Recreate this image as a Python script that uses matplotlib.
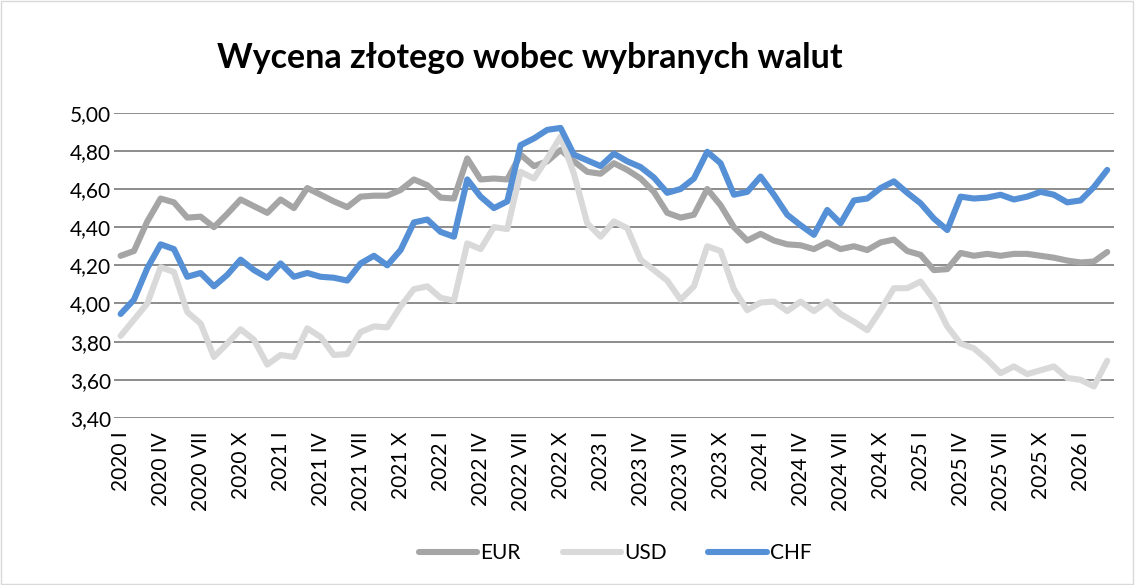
import numpy as np
import matplotlib
matplotlib.use('Agg')
from matplotlib import pyplot as plt
from matplotlib.patches import Rectangle

# monthly rates, 2020 I .. 2026 III
eur = [4.25, 4.275, 4.43, 4.55, 4.53, 4.45, 4.455, 4.40, 4.47, 4.545,
       4.51, 4.475, 4.545, 4.50, 4.605, 4.57, 4.535, 4.505, 4.56, 4.565,
       4.565, 4.595, 4.65, 4.62, 4.555, 4.55, 4.76, 4.65, 4.655, 4.65,
       4.78, 4.72, 4.745, 4.805, 4.745, 4.69, 4.68, 4.735, 4.70, 4.655,
       4.585, 4.475, 4.45, 4.465, 4.60, 4.515, 4.40, 4.33, 4.365, 4.33,
       4.31, 4.305, 4.285, 4.32, 4.285, 4.30, 4.28, 4.32, 4.335, 4.275,
       4.255, 4.175, 4.18, 4.265, 4.25, 4.26, 4.25, 4.26, 4.26, 4.25,
       4.24, 4.225, 4.215, 4.22, 4.27]
usd = [3.83, 3.915, 4.00, 4.19, 4.165, 3.955, 3.895, 3.72, 3.79, 3.865,
       3.81, 3.68, 3.73, 3.72, 3.87, 3.825, 3.73, 3.735, 3.85, 3.88,
       3.875, 3.985, 4.075, 4.09, 4.03, 4.015, 4.315, 4.285, 4.40, 4.39,
       4.69, 4.655, 4.76, 4.875, 4.68, 4.42, 4.35, 4.43, 4.395, 4.23,
       4.175, 4.12, 4.02, 4.09, 4.30, 4.275, 4.075, 3.965, 4.005, 4.01,
       3.96, 4.01, 3.96, 4.01, 3.945, 3.905, 3.86, 3.965, 4.08, 4.08,
       4.115, 4.02, 3.88, 3.79, 3.765, 3.705, 3.635, 3.67, 3.63, 3.65,
       3.67, 3.61, 3.60, 3.565, 3.70]
chf = [3.945, 4.02, 4.185, 4.31, 4.285, 4.14, 4.16, 4.09, 4.15, 4.23,
       4.175, 4.135, 4.21, 4.14, 4.16, 4.14, 4.135, 4.12, 4.21, 4.25,
       4.20, 4.28, 4.425, 4.44, 4.375, 4.35, 4.65, 4.56, 4.50, 4.535,
       4.83, 4.865, 4.91, 4.92, 4.78, 4.75, 4.72, 4.785, 4.745, 4.715,
       4.66, 4.58, 4.60, 4.655, 4.795, 4.735, 4.57, 4.585, 4.665, 4.57,
       4.465, 4.41, 4.36, 4.49, 4.42, 4.54, 4.55, 4.605, 4.64, 4.58,
       4.525, 4.445, 4.385, 4.56, 4.55, 4.555, 4.57, 4.545, 4.56, 4.585,
       4.57, 4.53, 4.54, 4.61, 4.70]

# every third month is labelled
tick_labels = ['2020 I', '2020 IV', '2020 VII', '2020 X',
               '2021 I', '2021 IV', '2021 VII', '2021 X',
               '2022 I', '2022 IV', '2022 VII', '2022 X',
               '2023 I', '2023 IV', '2023 VII', '2023 X',
               '2024 I', '2024 IV', '2024 VII', '2024 X',
               '2025 I', '2025 IV', '2025 VII', '2025 X',
               '2026 I']
y_ticks = [3.40, 3.60, 3.80, 4.00, 4.20, 4.40, 4.60, 4.80, 5.00]

plt.rcParams['font.family'] = ['Lato', 'DejaVu Sans']

fig = plt.figure(figsize=(11.35, 5.85), dpi=100)
ax = fig.add_axes([0.1004, 0.2855, 0.881, 0.5219])

x = np.arange(len(eur))
lw = 4.4
ax.plot(x, eur, color='#a5a5a5', lw=lw, solid_capstyle='round',
        solid_joinstyle='round', label='EUR', zorder=3)
ax.plot(x, usd, color='#d9d9d9', lw=lw, solid_capstyle='round',
        solid_joinstyle='round', label='USD', zorder=3)
ax.plot(x, chf, color='#5590d6', lw=lw, solid_capstyle='round',
        solid_joinstyle='round', label='CHF', zorder=3)

ax.set_xlim(-0.5, len(eur) - 0.5)
ax.set_ylim(3.40, 5.00)
ax.set_yticks(y_ticks)
ax.set_yticklabels([('%.2f' % v).replace('.', ',') for v in y_ticks])
ax.set_xticks(np.arange(0, len(eur), 3))
ax.set_xticklabels(tick_labels, rotation=90)
ax.tick_params(axis='both', length=0, labelsize=15, colors='black')
ax.tick_params(axis='x', pad=10)
ax.tick_params(axis='y', pad=2)
ax.grid(True, axis='y', color='#8c8c8c', lw=1.4)
ax.set_axisbelow(True)
for s in ax.spines.values():
    s.set_visible(False)

fig.text(0.467, 0.90, 'Wycena złotego wobec wybranych walut',
         ha='center', va='center', fontsize=24.5, fontweight='bold')

fig.legend(loc='center', bbox_to_anchor=(0.542, 0.055), ncol=3,
           frameon=False, fontsize=15, handlelength=2.8,
           handletextpad=0.15, columnspacing=2.0)

fig.patches.append(Rectangle((0.001, 0.001), 0.997, 0.997,
                             transform=fig.transFigure, fill=False,
                             edgecolor='#d9d9d9', lw=1))

fig.savefig('out.png', dpi=100)
